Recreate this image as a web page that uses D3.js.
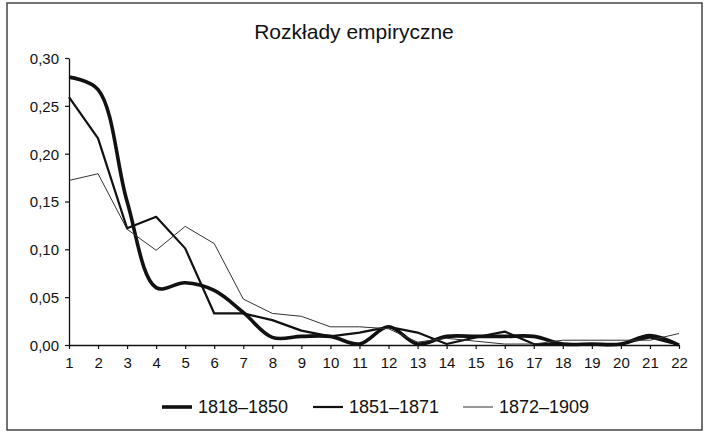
<!DOCTYPE html>
<html>
<head>
<meta charset="utf-8">
<script src="https://cdn.jsdelivr.net/npm/d3@7"></script>
<style>
  body { margin: 0; background: #fff; }
  svg { font-family: Arial, "Liberation Sans", sans-serif; }
</style>
</head>
<body>
<svg id="chart"></svg>
<script>
var categories = d3.range(1, 23);
var yTicks = [0, 0.05, 0.10, 0.15, 0.20, 0.25, 0.30];

var s1818 = [0.280, 0.267, 0.150, 0.060, 0.065, 0.057, 0.034, 0.008, 0.009, 0.009, 0.001, 0.019, 0.001, 0.009, 0.009, 0.009, 0.009, 0.001, 0.001, 0.001, 0.010, 0.000];
var s1851 = [0.259, 0.216, 0.122, 0.134, 0.101, 0.033, 0.033, 0.026, 0.015, 0.009, 0.013, 0.019, 0.013, 0.001, 0.008, 0.014, 0.001, 0.001, 0.001, 0.001, 0.008, 0.000];
var s1872 = [0.172, 0.179, 0.121, 0.099, 0.124, 0.106, 0.048, 0.033, 0.030, 0.019, 0.019, 0.017, 0.003, 0.007, 0.004, 0.001, 0.001, 0.005, 0.005, 0.005, 0.005, 0.012];

var series = [
  { name: "1818\u20131850", values: s1818, width: 3.6, color: "#111", smooth: true },
  { name: "1851\u20131871", values: s1851, width: 2.2, color: "#111", smooth: false },
  { name: "1872\u20131909", values: s1872, width: 1, color: "#333", smooth: false }
];

var svgWidth = 705, svgHeight = 432;
var margin = { top: 58, right: 25, bottom: 87, left: 69 };

var svg = d3.select("#chart")
  .attr("width", svgWidth)
  .attr("height", svgHeight);

// outer frame
svg.append("rect")
  .attr("x", 7).attr("y", 3)
  .attr("width", 695).attr("height", 427)
  .attr("fill", "none")
  .attr("stroke", "#444")
  .attr("stroke-width", 1.5);

var x = d3.scalePoint()
  .domain(categories)
  .range([margin.left, svgWidth - margin.right - 1]);

var y = d3.scaleLinear()
  .domain([0, 0.30])
  .range([svgHeight - margin.bottom, margin.top]);

var fmt = function(d) { return d3.format(".2f")(d).replace(".", ","); };

// y axis
var yAxis = svg.append("g")
  .attr("transform", `translate(${margin.left},0)`)
  .call(d3.axisLeft(y).tickValues(yTicks).tickFormat(fmt).tickSize(4).tickSizeOuter(0));

// x axis
var xAxis = svg.append("g")
  .attr("transform", `translate(0,${y(0)})`)
  .call(d3.axisBottom(x).tickSize(4).tickSizeOuter(0));

[yAxis, xAxis].forEach(function(a) {
  a.select(".domain").attr("stroke", "#111").attr("stroke-width", 1.3);
  a.selectAll(".tick line").attr("stroke", "#111").attr("stroke-width", 1.2);
  a.selectAll("text")
    .attr("fill", "#111")
    .style("font-size", "15px")
    .style("font-family", "Arial, 'Liberation Sans', sans-serif");
});
yAxis.selectAll("text").attr("x", -10).attr("dy", "0.36em");
xAxis.selectAll("text").attr("y", 12);

// lines
series.forEach(function(s) {
  var line = d3.line()
    .x(function(d, i) { return x(categories[i]); })
    .y(function(d) { return y(d); })
    .curve(s.smooth ? d3.curveCatmullRom.alpha(0.5) : d3.curveLinear);
  svg.append("path")
    .datum(s.values)
    .attr("fill", "none")
    .attr("stroke", s.color)
    .attr("stroke-width", s.width)
    .attr("stroke-linejoin", "round")
    .attr("d", line);
});

// title
svg.append("text")
  .attr("x", 354)
  .attr("y", 39)
  .attr("text-anchor", "middle")
  .attr("fill", "#111")
  .style("font-size", "21px")
  .text("Rozkłady empiryczne");

// legend
var legendX = [162, 313, 463];
var legend = svg.selectAll(".legend")
  .data(series)
  .enter()
  .append("g")
  .attr("transform", function(d, i) { return `translate(${legendX[i]},407)`; });

legend.append("line")
  .attr("x1", 0).attr("x2", 30)
  .attr("stroke", function(d) { return d.color; })
  .attr("stroke-width", function(d) { return d.width; });

legend.append("text")
  .attr("x", 36)
  .attr("dy", "0.36em")
  .attr("fill", "#111")
  .style("font-size", "18px")
  .text(function(d) { return d.name; });
</script>
</body>
</html>
